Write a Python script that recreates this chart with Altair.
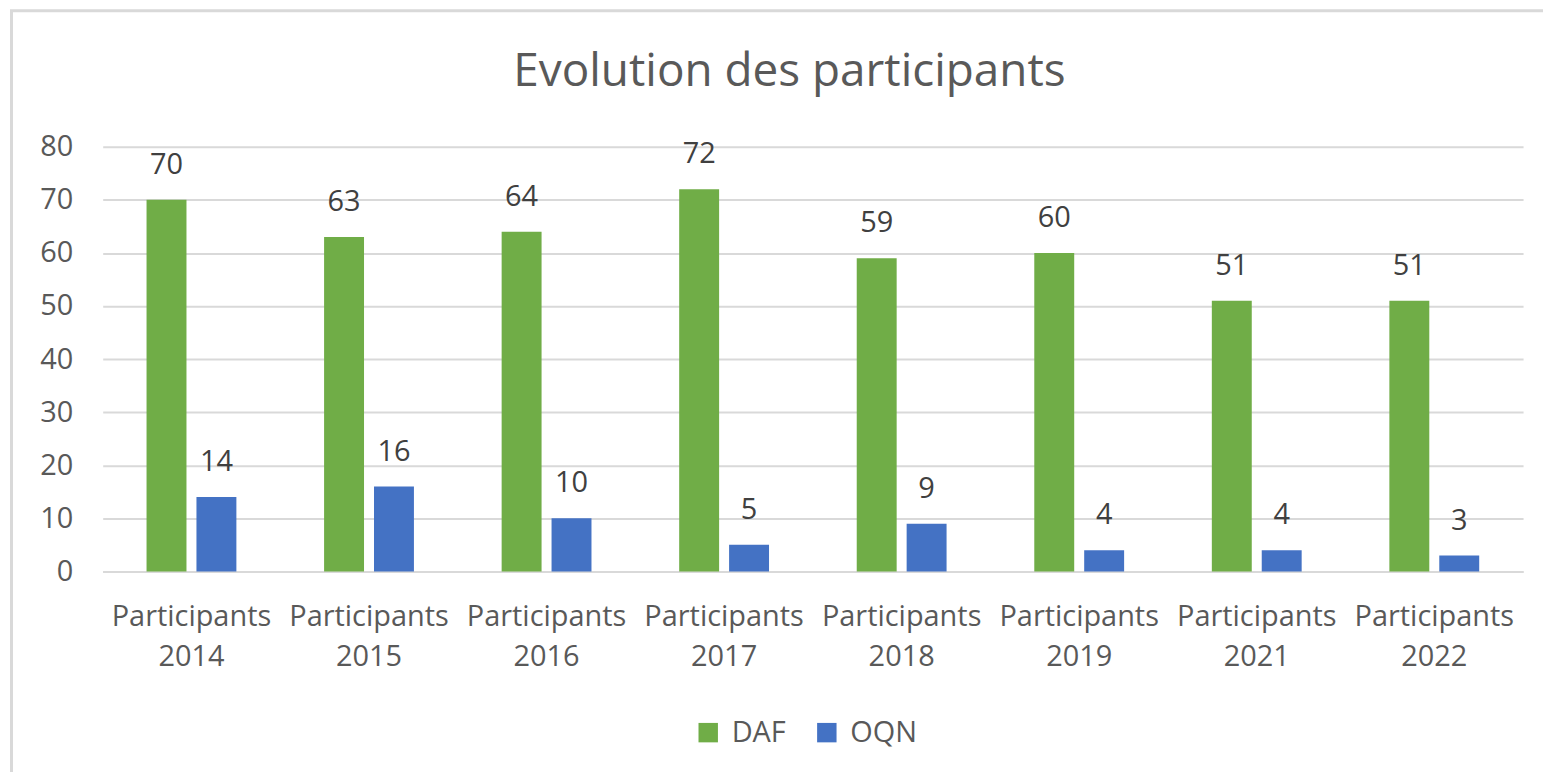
import altair as alt
import pandas as pd

categories = ["Participants 2014", "Participants 2015", "Participants 2016", "Participants 2017",
              "Participants 2018", "Participants 2019", "Participants 2021", "Participants 2022"]
series_names = ["DAF", "OQN"]
daf = [70, 63, 64, 72, 59, 60, 51, 51]
oqn = [14, 16, 10, 5, 9, 4, 4, 3]
y_ticks = [0, 10, 20, 30, 40, 50, 60, 70, 80]
colors = ["#70AD47", "#4472C4"]
chart_title = "Evolution des participants"

rows = []
for i, c in enumerate(categories):
    rows.append({"cat": c, "series": "DAF", "value": daf[i]})
    rows.append({"cat": c, "series": "OQN", "value": oqn[i]})
df = pd.DataFrame(rows)

FONT = "Open Sans"
GRID = "#D9D9D9"
TXT = "#595959"

x_enc = alt.X("cat:N", sort=categories, title=None,
              scale=alt.Scale(paddingInner=0.494, paddingOuter=0.247),
              axis=alt.Axis(labelAngle=0, labelExpr="split(datum.label, ' ')",
                            labelLineHeight=40, labelFontSize=29, labelColor=TXT,
                            labelFont=FONT, labelPadding=31, ticks=False,
                            domainColor=GRID, domainWidth=2, grid=False))
xo_enc = alt.XOffset("series:N", sort=series_names,
                     scale=alt.Scale(domain=series_names, paddingInner=0.2, paddingOuter=0))
y_enc = alt.Y("value:Q", title=None,
              scale=alt.Scale(domain=[0, 80], nice=False),
              axis=alt.Axis(values=y_ticks, domain=False, ticks=False, labelFontSize=29,
                            labelColor=TXT, labelFont=FONT, labelPadding=30,
                            gridColor=GRID, gridWidth=2))

base = alt.Chart(df)

bars = base.mark_bar().encode(
    x=x_enc, xOffset=xo_enc, y=y_enc,
    color=alt.Color("series:N", sort=series_names,
                    scale=alt.Scale(domain=series_names, range=colors),
                    legend=alt.Legend(title=None, orient="none", legendX=593, legendY=573,
                                      direction="horizontal", symbolType="square",
                                      symbolSize=380, symbolStrokeWidth=0,
                                      labelFontSize=29, labelFont=FONT, labelColor=TXT,
                                      labelOffset=9, columnPadding=26, padding=0))
)

labels = base.mark_text(baseline="alphabetic", dy=-26, fontSize=29, font=FONT,
                        color="#404040").encode(
    x=alt.X("cat:N", sort=categories), xOffset=alt.XOffset("series:N", sort=series_names),
    y="value:Q", text="value:Q"
)

frame_df = pd.DataFrame({"k": [0]})
title_mark = alt.Chart(frame_df).mark_text(
    text=chart_title, fontSize=46, font=FONT, color=TXT, align="center",
    baseline="alphabetic").encode(x=alt.value(689), y=alt.value(-61))
left_line = alt.Chart(frame_df).mark_rule(color=GRID, strokeWidth=3).encode(
    x=alt.value(-91.5), y=alt.value(-136.5), y2=alt.value(640))
top_line = alt.Chart(frame_df).mark_rule(color=GRID, strokeWidth=3).encode(
    x=alt.value(-93), x2=alt.value(1460), y=alt.value(-136.5))

chart = alt.layer(bars, labels, title_mark, left_line, top_line).properties(
    width=1425, height=426,
    autosize=alt.AutoSizeParams(type="none"),
    padding={"left": 95, "top": 138, "right": 20, "bottom": 200},
    background="white",
).configure_view(stroke=None)

chart.save("out.html", embed_options={"renderer": "svg", "actions": False})
